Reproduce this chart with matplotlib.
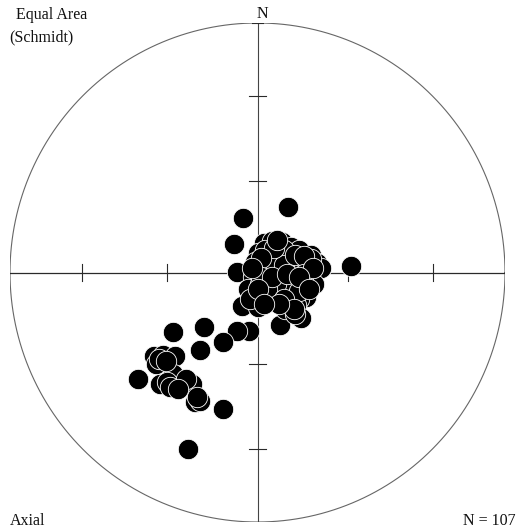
import numpy as np
import matplotlib
matplotlib.use("Agg")
import matplotlib.pyplot as plt

# Equal-area (Schmidt) projected positions of axial data, in percent of the
# primitive radius: east (x) and north (y).
east = [
    # outliers around the main group
    -6.0, 12.4, -9.6, -8.4, 37.6,
    # main group
    2.8, 6.0, 10.0, 13.6, 16.8, 21.6, 24.0, 25.6, 0.0, 4.8,
    8.8, 12.8, 17.6, 21.6, -1.2, 1.6, 0.8, 8.4, 12.8, 18.0,
    20.8, -2.0, 4.0, 10.0, 16.0, 19.2, -4.0, 2.4, 6.4, 10.0,
    13.6, 19.6, -0.4, 12.8, 16.8, -6.4, 0.0, 15.6, 17.6, 9.2,
    -3.6, -8.4, 7.2, 14.8, 4.8, 11.2, 3.2, 10.8, -3.2, 22.8,
    1.2, 5.6, 15.2,
    4.0, 10.8, 15.2, 18.8, 6.8, 1.6, 12.8, 7.6, 16.8, 4.0,
    10.8, 15.2, 14.8, 1.6, 6.0, 18.8, 22.4, 0.0, -2.4, 12.0,
    8.8, 2.8, 16.8, 8.0, 20.8,
    # south-west group
    -34.0, -21.6, -14.0, -23.2, -42.0, -38.0, -33.2, -41.2, -48.4, -39.2,
    -34.0, -30.0, -26.4, -36.4, -25.2, -23.2, -14.0, -28.0, -40.0, -35.2,
    -28.8, -24.4, -32.0, -37.0,
]
north = [
    22.0, 26.4, 11.6, 0.4, 2.8,
    12.0, 12.8, 12.4, 10.4, 9.2, 7.2, 4.0, 2.0, 8.0, 6.4,
    6.4, 6.0, 4.4, 5.6, 4.4, 2.0, 0.4, 0.8, 1.2, 2.0,
    -0.8, -2.0, -2.8, -2.8, -4.8, -4.0, -6.8, -8.4, -6.8, -8.8,
    -7.6, -10.0, -10.8, -12.0, -10.8, -13.6, -14.0, -13.2, -18.4, -21.2,
    -23.6, -23.6, 3.2, -1.6, -10.8, -14.8, 9.2, 9.2, -10.8, -4.8,
    -4.8, 0.4, 4.4,
    4.4, 3.2, 7.2, 6.8, 10.0, 6.0, -4.0, -4.8, -7.6, -6.8,
    -10.8, -16.8, -14.8, -2.0, -2.0, -0.8, 2.0, -6.8, 2.0, -0.8,
    -12.8, -12.8, -2.0, 13.2, -6.8,
    -24.0, -22.0, -28.0, -31.2, -33.6, -33.2, -33.6, -36.8, -42.8, -44.8,
    -40.8, -44.8, -44.8, -44.0, -52.0, -51.6, -54.8, -70.8, -34.8, -46.0,
    -42.8, -50.0, -46.8, -35.6,
]

# Graduation ticks on the cross: plunges of 60 and 30 degrees
tick_plunges = [60, 30]

x = np.array(east) / 100.0
y = np.array(north) / 100.0

W, H = 521, 532
fig = plt.figure(figsize=(W / 100, H / 100), dpi=100)
fig.patch.set_facecolor("white")
ax = fig.add_axes([10 / W, 10 / H, 495 / W, 499 / H])
ax.set_xlim(-1, 1)
ax.set_ylim(-1, 1)
ax.axis("off")

line_col = "#2a2a2a"
t = np.linspace(0, 2 * np.pi, 721)
ax.plot(np.cos(t), np.sin(t), color="#666666", lw=0.8, zorder=1)
ax.plot([-1, 1], [0, 0], color=line_col, lw=0.9, zorder=1)
ax.plot([0, 0], [-1, 1], color="#444444", lw=0.8, zorder=1)

half = 0.035
for p in tick_plunges:
    r = np.sqrt(2) * np.sin(np.radians((90 - p) / 2))
    for s in (-1, 1):
        ax.plot([-half, half], [s * r, s * r], color=line_col, lw=0.8, zorder=1)
        ax.plot([s * r, s * r], [-half, half], color=line_col, lw=0.8, zorder=1)
ax.plot([-half * 0.6, half * 0.6], [1, 1], color=line_col, lw=0.8, zorder=1)

ax.scatter(x, y, s=215, c="black", edgecolors="white", linewidths=0.6,
           zorder=3, clip_on=False)

font = dict(family="Liberation Serif", size=11.5, color="#111111")
fig.text(16 / W, 1 - 15 / H, "Equal Area", ha="left", va="center", **font)
fig.text(9 / W, 1 - 37 / H, "(Schmidt)", ha="left", va="center", **font)
fig.text(262 / W, 1 - 14 / H, "N", ha="center", va="center", **font)
fig.text(10 / W, 1 - 521 / H, "Axial", ha="left", va="center", **font)
fig.text(516 / W, 1 - 521 / H, f"N = {len(x)}", ha="right", va="center", **font)

fig.savefig("out.png", dpi=100, facecolor="white")
